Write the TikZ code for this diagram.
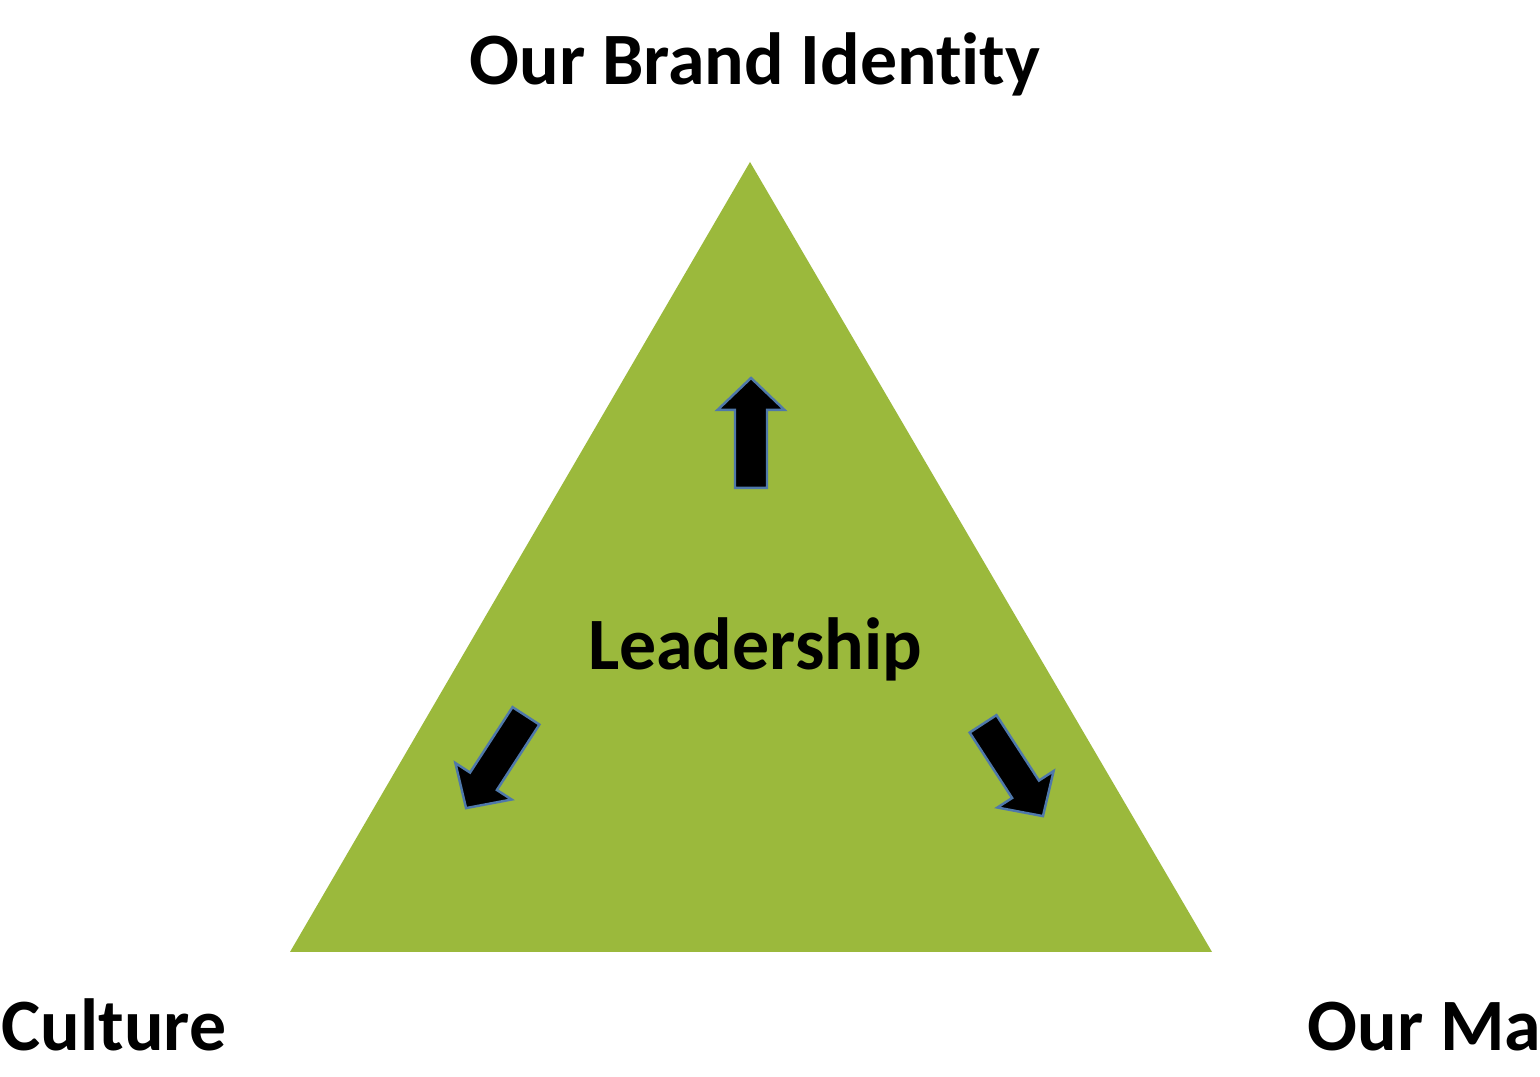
\documentclass[tikz,border=0pt]{standalone}
\usepackage{fontspec}
\setmainfont[Ligatures=NoCommon]{Carlito}
\definecolor{leafgreen}{RGB}{155,185,60}
\definecolor{edgeblue}{RGB}{79,120,170}

\begin{document}
\begin{tikzpicture}[x=0.01cm, y=0.01cm,
  every node/.style={font=\bfseries\fontsize{21}{24}\selectfont, inner sep=0pt},
  blockarrow/.pic={\draw[fill=black, draw=edgeblue, line width=0.7pt, line join=miter]
    (0,55) -- (33.5,23) -- (16,23) -- (16,-55) -- (-16,-55) -- (-16,23) -- (-33.5,23) -- cycle;}]
\useasboundingbox[fill=white] (0,0) rectangle (1540,1077);
\fill[leafgreen] (750,915) coordinate (apex) -- (1212,125) coordinate (right) -- (290,125) coordinate (left) -- cycle;
\node[anchor=base] (brand) at (755,992) {Our Brand Identity};
\node[anchor=base] (lead) at (755,407) {Leadership};
\node[anchor=base west] (culture) at (1,26) {Culture};
\node[anchor=base east] (market) at (1542,26) {Our Ma};
\pic at (751,644) {blockarrow};
\pic[rotate=147] at (496,315) {blockarrow};
\pic[rotate=-147] at (1013,307) {blockarrow};
\end{tikzpicture}
\end{document}
